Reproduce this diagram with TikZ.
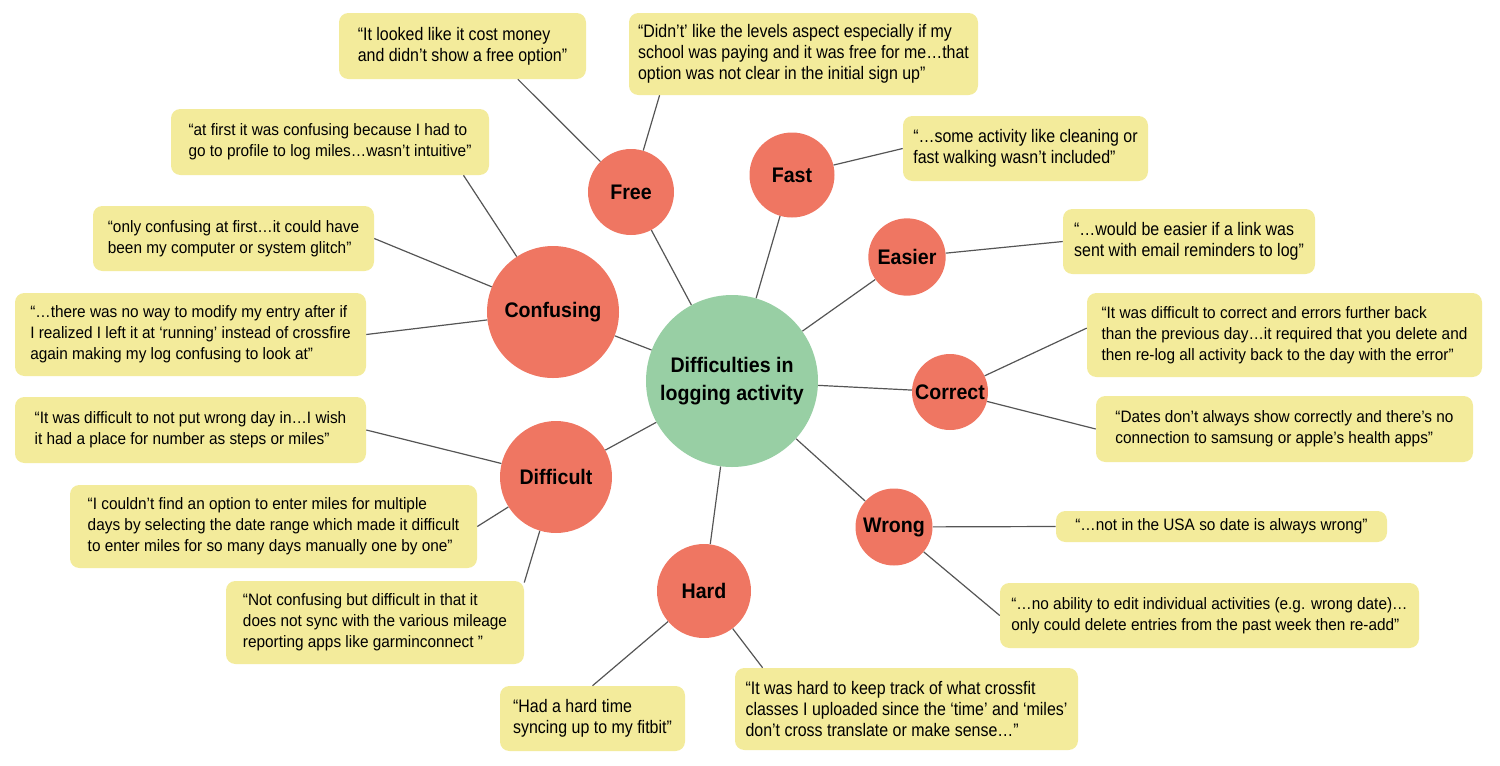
\documentclass[tikz,border=0pt]{standalone}
\usepackage{fontspec}
\setmainfont{Liberation Sans}[FakeStretch=0.93]
\newfontfamily\condfont{Liberation Sans}[FakeStretch=0.88]
\usepackage{xcolor}
\definecolor{topicred}{HTML}{EF7662}
\definecolor{hubgreen}{HTML}{98CFA4}
\definecolor{noteyellow}{HTML}{F3EB9B}
\definecolor{linkgray}{HTML}{555555}

\begin{document}
\begin{tikzpicture}[
  x=0.75pt, y=-0.75pt,
  hub/.style={circle, fill=hubgreen, inner sep=0pt, minimum size=129pt, align=center, font=\bfseries\fontsize{15.8}{20.5}\selectfont},
  topic/.style={circle, fill=topicred, inner sep=0pt, font=\bfseries\fontsize{15.8}{20}\selectfont},
  quote/.style={fill=noteyellow, rounded corners=7pt, align=left, inner sep=0pt, font=\fontsize{12.4}{15.6}\selectfont},
  cquote/.style={quote, font=\condfont\fontsize{13.6}{15.6}\selectfont},
  link/.style={draw=linkgray, line width=0.9pt}
]
\useasboundingbox (0,0) rectangle (1500,765);

\node[hub] (hub) at (732,381) {Difficulties in\\logging activity};
\node[topic, minimum size=99pt] (confusing) at (553,312) {Confusing};
\node[topic, minimum size=64.5pt] (free) at (631,192) {Free};
\node[topic, minimum size=63.75pt] (fast) at (792,175) {Fast};
\node[topic, minimum size=58pt] (easier) at (907,257) {Easier};
\node[topic, minimum size=57pt] (correct) at (950,392) {Correct};
\node[topic, minimum size=84pt] (difficult) at (556,477) {Difficult};
\node[topic, minimum size=70.5pt] (hard) at (704,591) {Hard};
\node[topic, minimum size=57.75pt] (wrong) at (894,527) {Wrong};

\node[cquote, minimum width=185.25pt, minimum height=49.5pt] (qa) at (462.5,46) {“It looked like it cost money\\and didn’t show a free option”};
\node[cquote, minimum width=261.75pt, minimum height=61.5pt] (qb) at (803.5,54) {“Didn’t’ like the levels aspect especially if my\\school was paying and it was free for me…that\\option was not clear in the initial sign up”};
\node[quote, minimum width=238.5pt, minimum height=49.5pt] (qc) at (330,142) {“at first it was confusing because I had to\\go to profile to log miles…wasn’t intuitive”};
\node[quote, minimum width=210.75pt, minimum height=48.75pt] (qd) at (233.5,238.5) {“only confusing at first…it could have\\been my computer or system glitch”};
\node[quote, minimum width=263.25pt, minimum height=62.25pt] (qe) at (190.5,334.5) {“…there was no way to modify my entry after if\\I realized I left it at ‘running’ instead of crossfire\\again making my log confusing to look at”};
\node[quote, minimum width=263.25pt, minimum height=49.5pt] (qf) at (190.5,430) {“It was difficult to not put wrong day in…I wish\\it had a place for number as steps or miles”};
\node[quote, minimum width=305.25pt, minimum height=62.25pt] (qg) at (273.5,526.5) {“I couldn’t find an option to enter miles for multiple\\days by selecting the date range which made it difficult\\to enter miles for so many days manually one by one”};
\node[quote, minimum width=223.5pt, minimum height=62.25pt] (qh) at (375,622.5) {“Not confusing but difficult in that it\\does not sync with the various mileage\\reporting apps like garminconnect ”};
\node[cquote, minimum width=138.75pt, minimum height=48.75pt] (qi) at (592.5,718.5) {“Had a hard time\\syncing up to my fitbit”};
\node[cquote, minimum width=257.25pt, minimum height=61.5pt] (qj) at (906.5,709) {“It was hard to keep track of what crossfit\\classes I uploaded since the ‘time’ and ‘miles’\\don’t cross translate or make sense…”};
\node[cquote, minimum width=183.75pt, minimum height=48.75pt] (qk) at (1025.5,148.5) {“…some activity like cleaning or\\fast walking wasn’t included”};
\node[cquote, minimum width=189pt, minimum height=48.75pt] (ql) at (1189,241.5) {“…would be easier if a link was\\sent with email reminders to log”};
\node[quote, minimum width=296.25pt, minimum height=63pt] (qm) at (1284.5,335) {“It was difficult to correct and errors further back\\than the previous day…it required that you delete and\\then re-log all activity back to the day with the error”};
\node[quote, minimum width=282.75pt, minimum height=49.5pt] (qn) at (1284.5,429) {“Dates don’t always show correctly and there’s no\\connection to samsung or apple’s health apps”};
\node[quote, minimum width=248.25pt, minimum height=23.25pt] (qo) at (1221.5,526.5) {“…not in the USA so date is always wrong”};
\node[quote, minimum width=314.25pt, minimum height=48.75pt] (qp) at (1209.5,615.5) {“…no ability to edit individual activities (e.g. wrong date)…\\only could delete entries from the past week then re-add”};

\draw[link] (hub) -- (confusing);
\draw[link] (hub) -- (free);
\draw[link] (hub) -- (fast);
\draw[link] (hub) -- (easier);
\draw[link] (hub) -- (correct);
\draw[link] (hub) -- (wrong);
\draw[link] (hub) -- (hard);
\draw[link] (hub) -- (difficult);
\draw[link] (free) -- (qa.-31);
\draw[link] (free) -- (qb.196);
\draw[link] (confusing) -- (qc.-14);
\draw[link] (confusing) -- (qd.east);
\draw[link] (confusing) -- (qe.east);
\draw[link] (difficult) -- (qf.east);
\draw[link] (difficult) -- (qg.east);
\draw[link] (difficult) -- (qh.15);
\draw[link] (hard) -- (qi.north);
\draw[link] (hard) -- (qj.164);
\draw[link] (fast) -- (qk.west);
\draw[link] (easier) -- (ql.west);
\draw[link] (correct) -- (qm.178);
\draw[link] (correct) -- (qn.west);
\draw[link] (wrong) -- (qo.west);
\draw[link] (wrong) -- (qp.west);
\end{tikzpicture}
\end{document}
